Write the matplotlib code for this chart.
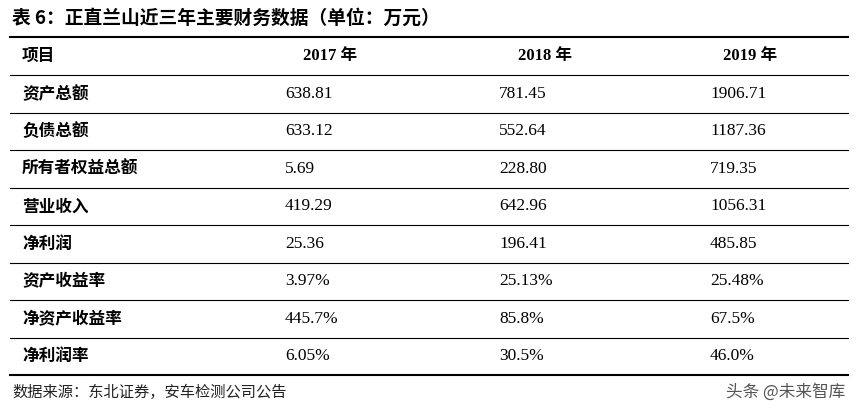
import matplotlib
matplotlib.use("Agg")
import matplotlib.pyplot as plt

plt.rcParams['font.family'] = ['Noto Sans CJK SC', 'DejaVu Sans']

title = "表 6：正直兰山近三年主要财务数据（单位：万元）"
header = ["项目", "2017 年", "2018 年", "2019 年"]
items = ["资产总额", "负债总额", "所有者权益总额", "营业收入", "净利润", "资产收益率", "净资产收益率", "净利润率"]
v2017 = ["638.81", "633.12", "5.69", "419.29", "25.36", "3.97%", "445.7%", "6.05%"]
v2018 = ["781.45", "552.64", "228.80", "642.96", "196.41", "25.13%", "85.8%", "30.5%"]
v2019 = ["1906.71", "1187.36", "719.35", "1056.31", "485.85", "25.48%", "67.5%", "46.0%"]
source = "数据来源：东北证券，安车检测公司公告"
watermark = "头条 @未来智库"

W, H = 860, 413
fig = plt.figure(figsize=(W/100, H/100), dpi=100)
ax = fig.add_axes([0, 0, 1, 1])
ax.set_xlim(0, W); ax.set_ylim(H, 0); ax.axis('off')

serif = ['Liberation Serif', 'Noto Sans CJK SC']
ax.text(12, 18, title, fontsize=13.5, fontweight='bold', va='center', ha='left')
x0, x1 = 10, 848
ax.plot([x0, x1], [37, 37], color='black', lw=1.5)
hy = 56
ax.text(22, hy, header[0], fontsize=12, fontweight='bold', va='center')
for xc, h in zip([330, 545, 750], header[1:]):
    ax.text(xc, hy, h, fontsize=12, fontweight='bold', va='center', ha='center', family=serif)
ax.plot([x0, x1], [75, 75], color='black', lw=0.8)
top, rh = 75, 37.5
colx = [285, 499, 710]
for i, it in enumerate(items):
    yc = top + rh*(i+0.5)
    ax.text(22, yc, it, fontsize=12, fontweight='bold', va='center')
    for xc, vals in zip(colx, [v2017, v2018, v2019]):
        ax.text(xc, yc, vals[i], fontsize=12.5, va='center', family=serif)
    yb = top + rh*(i+1)
    ax.plot([x0, x1], [yb, yb], color='black', lw=1.5 if i == len(items)-1 else 0.8)
ax.text(12, 392, source, fontsize=11, va='center', color='#222222')
ax.text(845, 392, watermark, fontsize=12, va='center', ha='right', color='#555555')
fig.savefig("out.png", dpi=100)
